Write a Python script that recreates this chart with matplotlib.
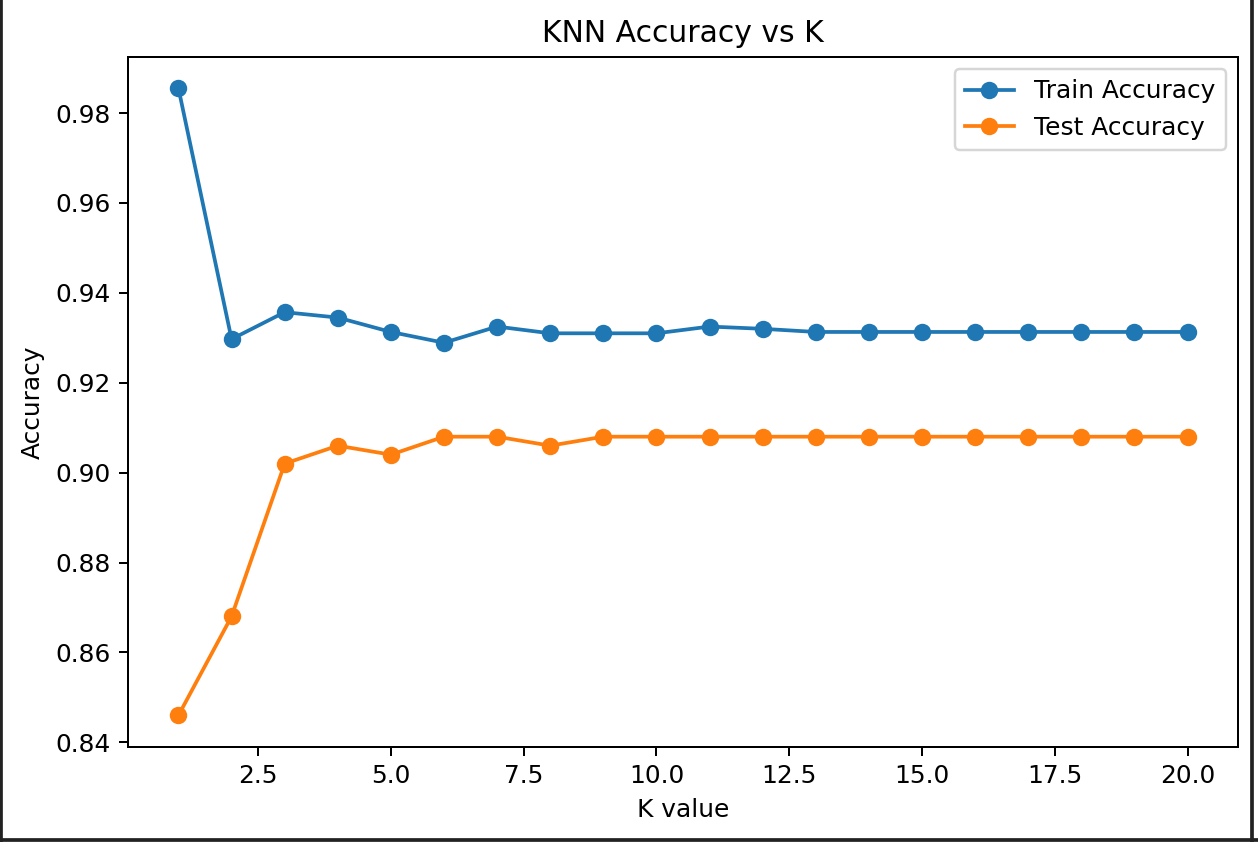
import matplotlib
matplotlib.use("Agg")
import matplotlib.pyplot as plt
from matplotlib.lines import Line2D

# valores de K e acuracias
k_values = list(range(1, 21))
train_acc = [0.9855, 0.9297, 0.9357, 0.9345, 0.9313, 0.9289, 0.9325, 0.9310, 0.9310, 0.9310,
             0.9325, 0.9320, 0.9313, 0.9313, 0.9313, 0.9313, 0.9313, 0.9313, 0.9313, 0.9313]
test_acc = [0.846, 0.868, 0.902, 0.906, 0.904, 0.908, 0.908, 0.906, 0.908, 0.908,
            0.908, 0.908, 0.908, 0.908, 0.908, 0.908, 0.908, 0.908, 0.908, 0.908]

fig = plt.figure(figsize=(1258 / 179, 842 / 179), dpi=179)
ax = fig.add_axes([128 / 1258, (842 - 746.7) / 842, 1110 / 1258, (746.7 - 57) / 842])

ax.plot(k_values, train_acc, marker="o", label="Train Accuracy")
ax.plot(k_values, test_acc, marker="o", label="Test Accuracy")
ax.set_title("KNN Accuracy vs K")
ax.set_xlabel("K value")
ax.set_ylabel("Accuracy")
ax.legend()

# moldura escura da captura de tela
for xs, ys in [([0.001, 0.001], [0, 1]), ([0.9955, 0.9955], [0, 1]), ([0, 1], [0.002, 0.002])]:
    fig.add_artist(Line2D(xs, ys, transform=fig.transFigure, color="#222222", lw=1.5))

fig.savefig("out.png", dpi=179)
